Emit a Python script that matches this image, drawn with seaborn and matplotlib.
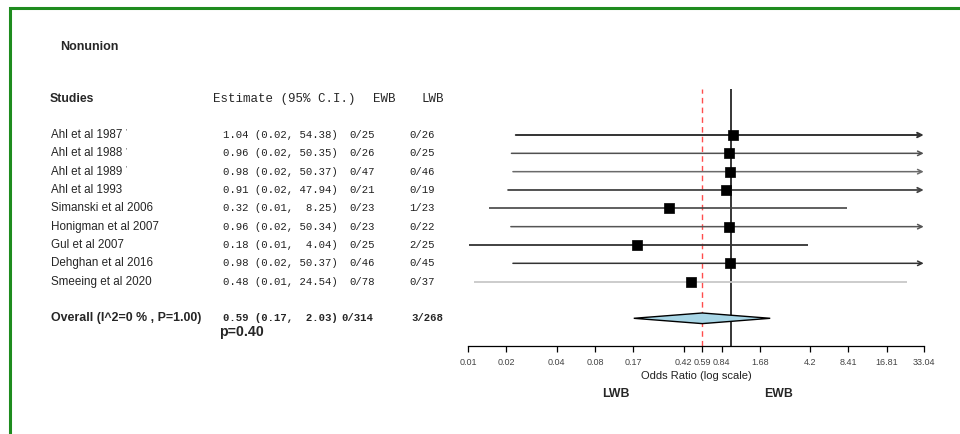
import matplotlib
matplotlib.use("Agg")
import matplotlib.pyplot as plt
import matplotlib.transforms as mtransforms
from matplotlib.patches import Polygon, Rectangle
from matplotlib.ticker import FixedLocator, FixedFormatter, NullLocator
import numpy as np
import pandas as pd
import seaborn as sns

# ---------------- data ----------------
studies = ["Ahl et al 1987", "Ahl et al 1988", "Ahl et al 1989", "Ahl et al 1993",
           "Simanski et al 2006", "Honigman et al 2007", "Gul et al 2007",
           "Dehghan et al 2016", "Smeeing et al 2020"]
footnote = [True, True, True, False, False, False, False, False, False]
estimate = [1.04, 0.96, 0.98, 0.91, 0.32, 0.96, 0.18, 0.98, 0.48]
lower = [0.0199, 0.0184, 0.0189, 0.0173, 0.0123, 0.0182, 0.0085, 0.0189, 0.0093]
upper = [54.38, 50.35, 50.37, 47.94, 8.25, 50.34, 4.04, 50.37, 24.54]
est_text = ["1.04 (0.02, 54.38)", "0.96 (0.02, 50.35)", "0.98 (0.02, 50.37)",
            "0.91 (0.02, 47.94)", "0.32 (0.01,  8.25)", "0.96 (0.02, 50.34)",
            "0.18 (0.01,  4.04)", "0.98 (0.02, 50.37)", "0.48 (0.01, 24.54)"]
ewb_events = ["0/25", "0/26", "0/47", "0/21", "0/23", "0/23", "0/25", "0/46", "0/78"]
lwb_events = ["0/26", "0/25", "0/46", "0/19", "1/23", "0/22", "2/25", "0/45", "0/37"]

overall_label = "Overall (I^2=0 % , P=1.00)"
overall_est, overall_lo, overall_hi = 0.59, 0.17, 2.03
overall_text = "0.59 (0.17,  2.03)"
overall_ewb, overall_lwb = "0/314", "3/268"
p_text = "p=0.40"

tick_values = [0.0084, 0.0168, 0.042, 0.084, 0.168, 0.42, 0.59, 0.84, 1.68, 4.2, 8.41, 16.81, 33.04]
tick_labels = ["0.01", "0.02", "0.04", "0.08", "0.17", "0.42", "0.59", "0.84", "1.68",
               "4.2", "8.41", "16.81", "33.04"]

# ---------------- style ----------------
sns.set_theme(style="white")
plt.rcParams["font.family"] = ["Liberation Sans", "DejaVu Sans"]
MONO = ["Liberation Mono", "DejaVu Sans Mono"]

W, H = 960, 434
fig = plt.figure(figsize=(W / 100, H / 100), dpi=100)
fig.patch.set_facecolor("white")

# green frame (top & left visible)
fig.patches.append(Rectangle((10 / W, -0.05), 1.2, (H - 8) / H + 0.05, transform=fig.transFigure,
                             fill=False, edgecolor="#1e8c1e", linewidth=2.2))

# axes geometry in pixels
ax_left, ax_right = 468.3, 923.7
row0_px, row_step = 135.0, 18.33
y_top_row, y_bot_row = -2.5, 11.5
ax_top_px = row0_px + y_top_row * row_step
ax_bot_px = row0_px + y_bot_row * row_step
ax = fig.add_axes([ax_left / W, (H - ax_bot_px) / H, (ax_right - ax_left) / W,
                   (ax_bot_px - ax_top_px) / H])
ax.set_facecolor("none")

xmin, xmax = tick_values[0], tick_values[-1]
ax.set_xscale("log")
ax.set_xlim(xmin, xmax)
ax.set_ylim(y_bot_row, y_top_row)

rows = np.arange(len(studies))
df = pd.DataFrame({"study": studies, "est": estimate, "lo": lower, "hi": upper, "row": rows})

# reference lines
ax.axvline(1.0, color="black", lw=1.1, zorder=1)
ax.axvline(overall_est, color="#ff4d4d", lw=1.0, ls=(0, (4, 3)), zorder=1)

line_colors = ["#333333", "#505050", "#6a6a6a", "#444444", "#444444",
               "#555555", "#333333", "#333333", "#c8c8c8"]
line_widths = [1.4, 1.1, 1.1, 1.3, 1.2, 1.1, 1.3, 1.1, 1.3]
for i, r in df.iterrows():
    c = line_colors[i]
    if r["hi"] > xmax:
        ax.annotate("", xy=(xmax, r["row"]), xytext=(r["lo"], r["row"]),
                    arrowprops=dict(arrowstyle="->", lw=line_widths[i], color=c, shrinkA=0,
                                    shrinkB=0, mutation_scale=8),
                    annotation_clip=False, zorder=2)
    else:
        ax.plot([r["lo"], r["hi"]], [r["row"], r["row"]], color=c, lw=line_widths[i], zorder=2,
                solid_capstyle="butt")

sns.scatterplot(data=df, x="est", y="row", marker="s", s=48, color="black",
                edgecolor="black", linewidth=0.5, ax=ax, legend=False, zorder=3)

# overall diamond
yo = 10
dh = 0.29
ax.add_patch(Polygon([(overall_lo, yo), (overall_est, yo - dh), (overall_hi, yo),
                      (overall_est, yo + dh)], closed=True, facecolor="#a8d6e6",
                     edgecolor="black", lw=1.0, zorder=4))

# axis styling
for s in ["left", "right", "top"]:
    ax.spines[s].set_visible(False)
ax.spines["bottom"].set_color("black")
ax.spines["bottom"].set_linewidth(0.9)
ax.set_yticks([])
ax.set_ylabel("")
ax.set_xlabel("")
ax.xaxis.set_major_locator(FixedLocator(tick_values))
ax.xaxis.set_major_formatter(FixedFormatter(tick_labels))
ax.xaxis.set_minor_locator(NullLocator())
ax.tick_params(axis="x", direction="out", length=4.5, width=0.9, pad=4,
               labelsize=6.5, labelcolor="#444444", color="black", bottom=True)
ax.grid(False)

# ---------------- text ----------------
tr = mtransforms.blended_transform_factory(fig.transFigure, ax.transData)

def fx(px):
    return px / W

def rowpx(px):
    return (px - row0_px) / row_step

fig.text(fx(60), 1 - 46.7 / H, "Nonunion", fontsize=9, fontweight="bold", va="center", ha="left")

ax.text(fx(50), rowpx(99.3), "Studies", transform=tr, fontsize=8.8, fontweight="bold",
        va="center", ha="left", clip_on=False)
ax.text(fx(213.3), rowpx(99.3), "Estimate (95% C.I.)", transform=tr, fontsize=9,
        family=MONO, va="center", ha="left", clip_on=False)
ax.text(fx(372.7), rowpx(99.3), "EWB", transform=tr, fontsize=9, family=MONO,
        va="center", ha="left", clip_on=False)
ax.text(fx(421.7), rowpx(99.3), "LWB", transform=tr, fontsize=9, family=MONO,
        va="center", ha="left", clip_on=False)

for i in range(len(studies)):
    t = ax.text(fx(50.7), i, studies[i], transform=tr, fontsize=8.4, va="center",
                ha="left", clip_on=False)
    if footnote[i]:
        ax.annotate("'", xy=(1, 0.72), xycoords=t, xytext=(2.5, 0), textcoords="offset points",
                    fontsize=5, va="center", ha="left", color="#333333", annotation_clip=False)
    ax.text(fx(222.7), i, est_text[i], transform=tr, fontsize=7.7, family=MONO,
            va="center", ha="left", color="#222222", clip_on=False)
    ax.text(fx(349), i, ewb_events[i], transform=tr, fontsize=7.7, family=MONO,
            va="center", ha="left", color="#222222", clip_on=False)
    ax.text(fx(409), i, lwb_events[i], transform=tr, fontsize=7.7, family=MONO,
            va="center", ha="left", color="#222222", clip_on=False)

ax.text(fx(50.7), yo, overall_label, transform=tr, fontsize=8.9, fontweight="bold",
        va="center", ha="left", clip_on=False)
ax.text(fx(222.7), yo, overall_text, transform=tr, fontsize=7.7, family=MONO,
        fontweight="bold", va="center", ha="left", clip_on=False)
ax.text(fx(341), yo, overall_ewb, transform=tr, fontsize=7.7, family=MONO,
        fontweight="bold", va="center", ha="left", clip_on=False)
ax.text(fx(411.7), yo, overall_lwb, transform=tr, fontsize=7.7, family=MONO,
        fontweight="bold", va="center", ha="left", clip_on=False)
ax.text(fx(219), rowpx(332.3), p_text, transform=tr, fontsize=10.2, fontweight="bold",
        va="center", ha="left", clip_on=False)

fig.text(fx(696), 1 - 376 / H, "Odds Ratio (log scale)", fontsize=8, ha="center",
         va="center", color="#222222")
fig.text(fx(615.8), 1 - 394 / H, "LWB", fontsize=8.8, fontweight="bold", ha="center", va="center")
fig.text(fx(778.5), 1 - 394 / H, "EWB", fontsize=8.8, fontweight="bold", ha="center", va="center")

fig.savefig("out.png", dpi=100, facecolor="white")
